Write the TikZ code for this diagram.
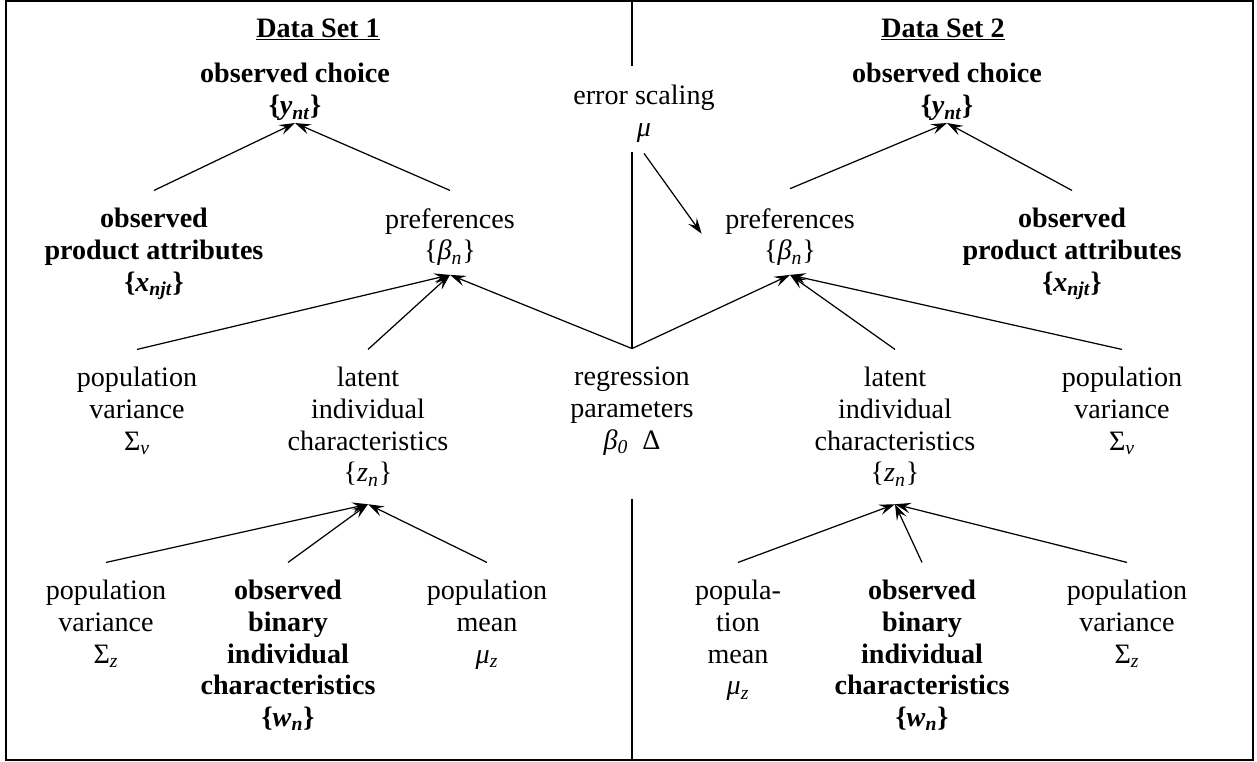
\documentclass[tikz,border=0pt]{standalone}
\usepackage{fontspec}
\setmainfont{Liberation Serif}
\usepackage{tikz}
\usetikzlibrary{arrows.meta}
\newcommand{\lowidx}[1]{\textsubscript{#1}}

\begin{document}
\begin{tikzpicture}[x=0.02cm, y=-0.02cm,
  every node/.style={font=\fontsize{16}{18}\selectfont, align=center, inner sep=0pt, anchor=north},
  obs/.style={font=\fontsize{16}{18}\selectfont\bfseries},
  link/.style={-{Stealth[length=9pt,width=6pt,inset=3.5pt]}, line width=0.7pt}]
\useasboundingbox (0,0) rectangle (1257,761);
\draw[line width=1.2pt] (6,1) rectangle (1253,760);
\draw[line width=1.1pt] (632,1) -- (632,66) (632,152) -- (632,348) (632,499) -- (632,760);

\node[obs, anchor=base] (head1) at (318,37) {\underline{Data Set 1}};
\node[obs, anchor=base] (head2) at (943,37) {\underline{Data Set 2}};

\node[obs] (choice1) at (295,63) {observed choice\\\{\textit{y}\lowidx{\textit{nt}}\}};
\node[obs] (choice2) at (947,63) {observed choice\\\{\textit{y}\lowidx{\textit{nt}}\}};

\node[obs] (attr1) at (154,208) {observed\\product attributes\\\{\textit{x}\lowidx{\textit{njt}}\}};
\node (pref1) at (450,208) {preferences\\\{\textit{β}\lowidx{\textit{n}}\}};
\node (err) at (644,85) {error scaling\\\textit{μ}};
\node (pref2) at (790,208) {preferences\\\{\textit{β}\lowidx{\textit{n}}\}};
\node[obs] (attr2) at (1072,208) {observed\\product attributes\\\{\textit{x}\lowidx{\textit{njt}}\}};

\node (varv1) at (137,367) {population\\variance\\Σ\lowidx{\textit{v}}};
\node (latent1) at (368,367) {latent\\individual\\characteristics\\\{\textit{z}\lowidx{\textit{n}}\}};
\node (regr) at (632,367) {regression\\parameters\\\textit{β}\lowidx{\textit{0}}\enspace Δ};
\node (latent2) at (895,367) {latent\\individual\\characteristics\\\{\textit{z}\lowidx{\textit{n}}\}};
\node (varv2) at (1122,367) {population\\variance\\Σ\lowidx{\textit{v}}};

\node (varz1) at (106,580) {population\\variance\\Σ\lowidx{\textit{z}}};
\node[obs] (bin1) at (288,580) {observed\\binary\\individual\\characteristics\\\{\textit{w}\lowidx{\textit{n}}\}};
\node (mean1) at (487,580) {population\\mean\\\textit{μ}\lowidx{\textit{z}}};
\node (mean2) at (738,580) {popula-\\tion\\mean\\\textit{μ}\lowidx{\textit{z}}};
\node[obs] (bin2) at (922,580) {observed\\binary\\individual\\characteristics\\\{\textit{w}\lowidx{\textit{n}}\}};
\node (varz2) at (1127,580) {population\\variance\\Σ\lowidx{\textit{z}}};

\draw[link] ([yshift=10pt]attr1.north) -- ([yshift=-1.2pt]choice1.south);
\draw[link] ([yshift=10pt]pref1.north) -- ([yshift=-1.2pt]choice1.south);
\draw[link] ([yshift=11pt]pref2.north) -- ([yshift=-1.2pt]choice2.south);
\draw[link] ([yshift=10pt]attr2.north) -- ([yshift=-1.2pt]choice2.south);

\draw[link, shorten >=22.7pt] ([yshift=-6pt]err.south) -- (pref2.south west);

\draw[link] ([yshift=10pt]varv1.north) -- ([yshift=-5pt]pref1.south);
\draw[link] ([yshift=10pt]latent1.north) -- ([yshift=-5pt]pref1.south);
\draw[link] ([yshift=10.5pt]regr.north) -- ([yshift=-5pt]pref1.south);
\draw[link] ([yshift=10.5pt]regr.north) -- ([yshift=-5pt]pref2.south);
\draw[link] ([yshift=10pt]latent2.north) -- ([yshift=-5pt]pref2.south);
\draw[link] ([yshift=10pt]varv2.north) -- ([yshift=-5pt]pref2.south);

\draw[link] ([yshift=10pt]varz1.north) -- ([yshift=-10pt]latent1.south);
\draw[link] ([yshift=10pt]bin1.north) -- ([yshift=-10pt]latent1.south);
\draw[link] ([yshift=10pt]mean1.north) -- ([yshift=-10pt]latent1.south);
\draw[link] ([yshift=10pt]mean2.north) -- ([yshift=-10pt]latent2.south);
\draw[link] ([yshift=10pt]bin2.north) -- ([yshift=-10pt]latent2.south);
\draw[link] ([yshift=10pt]varz2.north) -- ([yshift=-10pt]latent2.south);
\end{tikzpicture}
\end{document}
